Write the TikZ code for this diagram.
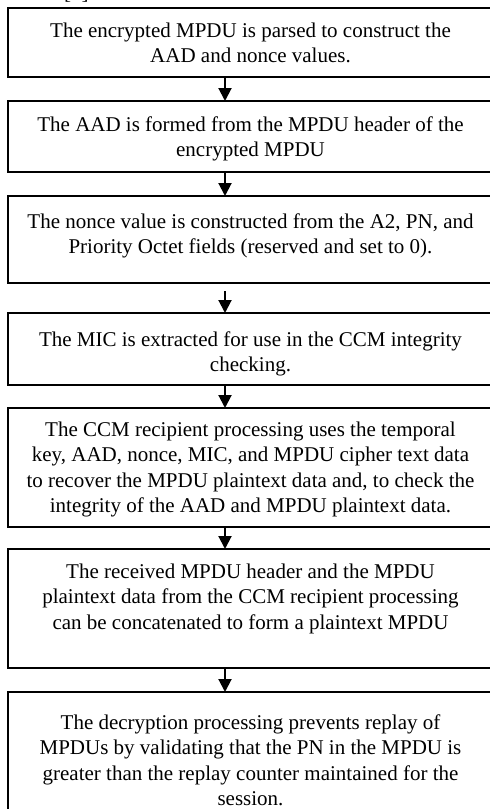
\documentclass[tikz,border=0pt]{standalone}
\usepackage{fontspec}
\setmainfont{Liberation Serif}
\usetikzlibrary{arrows.meta}
\newcommand\steptext[3]{\parbox[c][#1][t]{485pt}{\centering\fontsize{21pt}{25.5pt}\selectfont\rule{0pt}{#2}#3}}
\tikzset{
  stepbox/.style={draw, line width=1.6pt, inner sep=0pt, outer sep=0pt, anchor=north west},
  flowarrow/.style={line width=2pt, -{Triangle[width=13pt,length=13pt]}}
}
\begin{document}
\begin{tikzpicture}[x=1pt,y=-1pt]
\useasboundingbox (0,0) rectangle (490,809);
\node[anchor=base west, inner sep=0pt, font=\fontsize{21pt}{25pt}\selectfont] (frag) at (64,-1) {[3].};
\coordinate (ax) at (225,0);
\node[stepbox] (b1) at (8,8) {\steptext{69pt}{29pt}{The encrypted MPDU is parsed to construct the\\AAD and nonce values.}};
\node[stepbox] (b2) at (8,101) {\steptext{71pt}{30pt}{The AAD is formed from the MPDU header of the\\encrypted MPDU}};
\node[stepbox] (b3) at (8,196) {\steptext{87pt}{32pt}{The nonce value is constructed from the A2, PN, and\\Priority Octet fields (reserved and set to 0).}};
\node[stepbox] (b4) at (8,313) {\steptext{72pt}{33pt}{The MIC is extracted for use in the CCM integrity\\checking.}};
\node[stepbox] (b5) at (8,408) {\steptext{119pt}{28pt}{The CCM recipient processing uses the temporal\\key, AAD, nonce, MIC, and MPDU cipher text data\\to recover the MPDU plaintext data and, to check the\\integrity of the AAD and MPDU plaintext data.}};
\node[stepbox] (b6) at (8,549) {\steptext{119pt}{29pt}{The received MPDU header and the MPDU\\plaintext data from the CCM recipient processing\\can be concatenated to form a plaintext MPDU}};
\node[stepbox] (b7) at (8,692) {\steptext{140pt}{37pt}{The decryption processing prevents replay of\\MPDUs by validating that the PN in the MPDU is\\greater than the replay counter maintained for the\\session.}};
\draw[flowarrow] (b1.south -| ax) -- (b2.north -| ax);
\draw[flowarrow] (b2.south -| ax) -- (b3.north -| ax);
\draw[flowarrow, shorten <=8pt] (b3.south -| ax) -- (b4.north -| ax);
\draw[flowarrow] (b4.south -| ax) -- (b5.north -| ax);
\draw[flowarrow] (b5.south -| ax) -- (b6.north -| ax);
\draw[flowarrow] (b6.south -| ax) -- (b7.north -| ax);
\end{tikzpicture}
\end{document}
